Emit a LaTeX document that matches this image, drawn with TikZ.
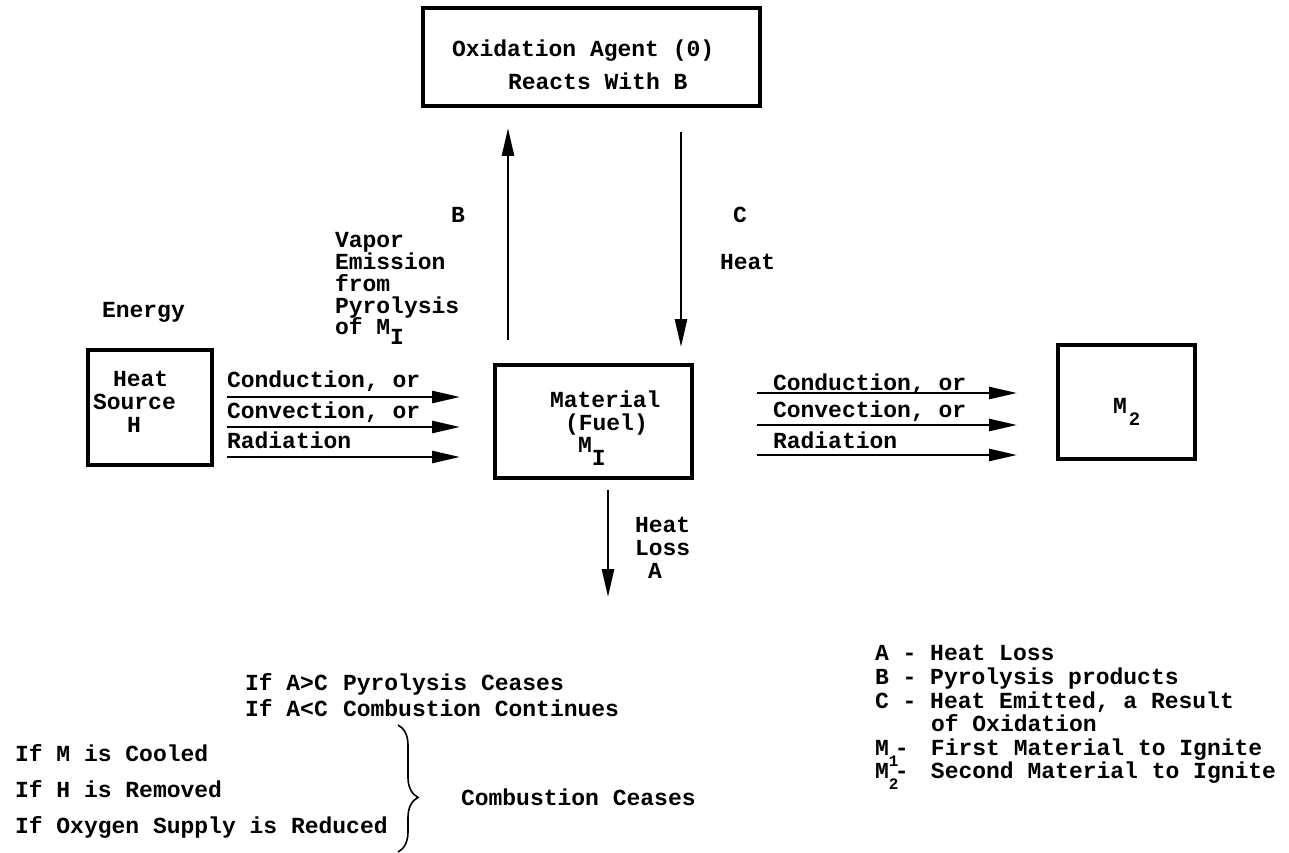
\documentclass[tikz,border=0pt]{standalone}
\usepackage{fontspec}
\setmainfont{Liberation Mono}
\usetikzlibrary{arrows.meta,decorations.pathreplacing}
\newcommand\lbl{\bfseries\fontsize{23}{23}\selectfont}
\newcommand\sublbl{\bfseries\fontsize{19}{19}\selectfont}
\newcommand\tinylbl{\bfseries\fontsize{16}{16}\selectfont}
\tikzset{
  txt/.style={anchor=base west, inner sep=0pt, outer sep=0pt, font=\lbl},
  box/.style={draw, line width=3.6pt, inner sep=0pt, outer sep=0pt},
  arr/.style={line width=2.6pt, -{Triangle[length=28pt,width=12pt]}},
}
\begin{document}
\begin{tikzpicture}[x=1pt,y=-1pt]
\useasboundingbox (0,0) rectangle (1289,853);

% ---- boxes ----
\node[box, minimum width=337pt, minimum height=98pt] (O) at (591.5,57) {};
\node[box, minimum width=124pt, minimum height=115pt] (H) at (150,407.5) {};
\node[box, minimum width=197pt, minimum height=113pt] (Mat) at (593.5,421.5) {};
\node[box, minimum width=137pt, minimum height=114pt] (M2) at (1126.5,402) {};

% ---- box texts ----
\node[txt] (o1) at (452,57) {Oxidation Agent (0)};
\node[txt] (o2) at (508,90) {Reacts With B};

\node[txt] (h1) at (113,386) {Heat};
\node[txt] (h2) at (93,409) {Source};
\node[txt] (h3) at (127,432) {H};

\node[txt] (m1) at (550,407) {Material};
\node[txt] (m2) at (565,430) {(Fuel)};
\node[txt] (m3) at (578,452) {M\raisebox{-13pt}{I}};

\node[txt] (q1) at (1113,413) {M\kern2pt\raisebox{-12pt}{\sublbl 2}};

% ---- vertical connectors ----
\coordinate (b0) at (508,340);
\draw[arr] (b0) -- ([yshift=-22pt]O.south -| b0);
\coordinate (c0) at (681,132);
\draw[arr] (c0) -- ([yshift=18pt]Mat.north -| c0);
\coordinate (a0) at (608,490);
\coordinate (a1) at (608,597);
\draw[arr] (a0) -- (a1);

\node[txt] (lb) at (451,222) {B};
\node[txt] (v1) at (335,247) {Vapor};
\node[txt] (v2) at (335,269) {Emission};
\node[txt] (v3) at (335,291) {from};
\node[txt] (v4) at (335,313) {Pyrolysis};
\node[txt] (v5) at (335,334) {of M\raisebox{-10pt}{I}};

\node[txt] (lc) at (733,222) {C};
\node[txt] (lh) at (720,269) {Heat};

\node[txt] (la1) at (635,532) {Heat};
\node[txt] (la2) at (635,555) {Loss};
\node[txt] (la3) at (648,578) {A};

\node[txt] (en) at (102,317) {Energy};

% ---- horizontal connectors: heat source to material ----
\coordinate (l1) at (227,397);
\coordinate (l2) at (227,427);
\coordinate (l3) at (227,457);
\draw[arr] (l1) -- ([xshift=-35pt]Mat.west |- l1);
\draw[arr] (l2) -- ([xshift=-35pt]Mat.west |- l2);
\draw[arr] (l3) -- ([xshift=-35pt]Mat.west |- l3);
\node[txt] (t1) at (227,387) {Conduction, or};
\node[txt] (t2) at (227,418) {Convection, or};
\node[txt] (t3) at (227,448) {Radiation};

% ---- horizontal connectors: material to M2 ----
\coordinate (r1) at (757,393);
\coordinate (r2) at (757,425);
\coordinate (r3) at (757,455);
\draw[arr] (r1) -- ([xshift=-41pt]M2.west |- r1);
\draw[arr] (r2) -- ([xshift=-41pt]M2.west |- r2);
\draw[arr] (r3) -- ([xshift=-41pt]M2.west |- r3);
\node[txt] (s1) at (773,390) {Conduction, or};
\node[txt] (s2) at (773,417) {Convection, or};
\node[txt] (s3) at (773,448) {Radiation};

% ---- conditions ----
\node[txt] (c1a) at (245,690) {If A>C};
\node[txt] (c1b) at (343,690) {Pyrolysis Ceases};
\node[txt] (c2a) at (245,716) {If A<C};
\node[txt] (c2b) at (343,716) {Combustion Continues};
\node[txt] (d1) at (15,761) {If M is Cooled};
\node[txt] (d2) at (15,797) {If H is Removed};
\node[txt] (d3) at (15,833) {If Oxygen Supply is Reduced};
\coordinate (bt) at (398,725);
\coordinate (bb) at (398,852);
\draw[line width=1.6pt, decorate, decoration={brace, amplitude=20pt, aspect=0.57}] (bt) -- (bb);
\node[txt] (cc) at (461,805) {Combustion Ceases};

% ---- legend ----
\node[txt] (k1) at (875,660) {A - Heat Loss};
\node[txt] (k2) at (875,684) {B - Pyrolysis products};
\node[txt] (k3) at (875,708) {C - Heat Emitted, a Result};
\node[txt] (k4) at (931,731) {of Oxidation};
\node[txt] (k5) at (875,755) {M\rlap{\raisebox{-11pt}{\tinylbl 1}}\kern6pt-\kern22.4pt First Material to Ignite};
\node[txt] (k6) at (875,778) {M\rlap{\raisebox{-11pt}{\tinylbl 2}}\kern6pt-\kern22.4pt Second Material to Ignite};
\end{tikzpicture}
\end{document}
